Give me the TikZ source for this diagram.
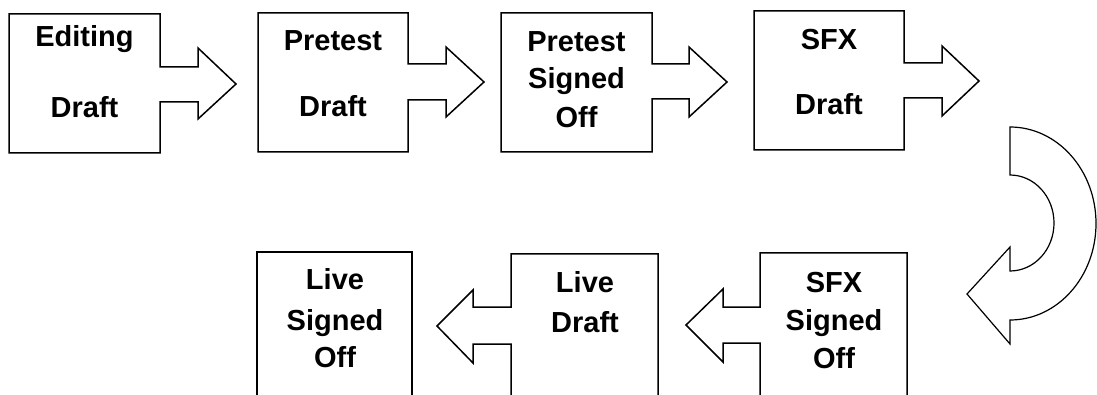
\documentclass[tikz,border=0pt]{standalone}
\usepackage{fontspec}
\setmainfont{Liberation Sans}
\begin{document}
\begin{tikzpicture}[x=1pt,y=-1pt,
  stageshape/.style={draw=black,line width=1.5pt,line join=miter,fill=white},
  turnshape/.style={draw=black,line width=1.2pt,line join=miter,fill=white},
  label/.style={anchor=base,inner sep=0pt,font=\fontsize{29}{34}\selectfont\bfseries}]
\useasboundingbox (0,0) rectangle (1097,395);
\clip (0,0) rectangle (1097,395);

% top row: boxes with right-pointing block arrows
\draw[stageshape] (9,14) -- (160,14) -- (160,67) -- (198,67) -- (198,48) -- (236,84)
  -- (198,119) -- (198,102) -- (160,102) -- (160,153) -- (9,153) -- cycle;
\draw[stageshape] (258,13) -- (408,13) -- (408,64) -- (446,64) -- (446,47) -- (484,82)
  -- (446,117) -- (446,100) -- (408,100) -- (408,152) -- (258,152) -- cycle;
\draw[stageshape] (501,13) -- (652,13) -- (652,64) -- (689,64) -- (689,47) -- (727,82)
  -- (689,117) -- (689,99) -- (652,99) -- (652,152) -- (501,152) -- cycle;
\draw[stageshape] (754,11) -- (904,11) -- (904,63) -- (942,63) -- (942,46) -- (979,81)
  -- (942,116) -- (942,98) -- (904,98) -- (904,150) -- (754,150) -- cycle;

% U-turn arrow
\draw[turnshape] (1010,127) arc[start angle=90,end angle=-90,x radius=86pt,y radius=96.5pt]
  -- (1010,344) -- (967,294) -- (1010,247) -- (1010,271)
  arc[start angle=-90,end angle=90,x radius=44pt,y radius=48pt] -- cycle;

% bottom row: boxes with left-pointing block arrows
\draw[stageshape] (760,253) -- (907,253) -- (907,400) -- (760,400) -- (760,343) -- (723,343)
  -- (723,362) -- (686,325) -- (723,289) -- (723,307) -- (760,307) -- cycle;
\draw[stageshape] (511,254) -- (658,254) -- (658,400) -- (511,400) -- (511,344) -- (473,344)
  -- (473,363) -- (437,326) -- (473,290) -- (473,307) -- (511,307) -- cycle;
\draw[stageshape] (257,252) -- (412,252) -- (412,400) -- (257,400) -- cycle;

% stage names
\node[label] (edA) at (84.5,47) {Editing};
\node[label] (edB) at (84.5,118) {Draft};
\node[label] (ptA) at (333,51) {Pretest};
\node[label] (ptB) at (333,117) {Draft};
\node[label] (psA) at (576.5,52) {Pretest};
\node[label] (psB) at (576.5,89) {Signed};
\node[label] (psC) at (576.5,128) {Off};
\node[label] (sdA) at (829,50) {SFX};
\node[label] (sdB) at (829,115) {Draft};
\node[label] (ssA) at (834,292) {SFX};
\node[label] (ssB) at (834,330) {Signed};
\node[label] (ssC) at (834,368) {Off};
\node[label] (ldA) at (585,292) {Live};
\node[label] (ldB) at (585,332) {Draft};
\node[label] (lsA) at (335,290) {Live};
\node[label] (lsB) at (335,330) {Signed};
\node[label] (lsC) at (335,367) {Off};
\end{tikzpicture}
\end{document}
